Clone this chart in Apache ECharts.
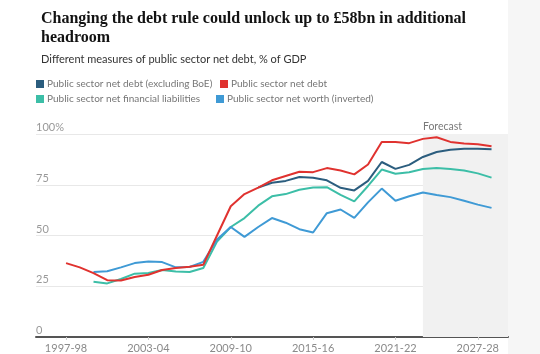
<!DOCTYPE html>
<html>
<head>
<meta charset="utf-8">
<script src="https://cdn.jsdelivr.net/npm/echarts@6/dist/echarts.min.js"></script>
<style>
html,body{margin:0;padding:0;background:#fff;}
#chart{width:540px;height:354px;}
</style>
</head>
<body>
<div id="chart"></div>
<script>
const categories = ['1997-98','1998-99','1999-00','2000-01','2001-02','2002-03','2003-04','2004-05','2005-06','2006-07','2007-08','2008-09','2009-10','2010-11','2011-12','2012-13','2013-14','2014-15','2015-16','2016-17','2017-18','2018-19','2019-20','2020-21','2021-22','2022-23','2023-24','2024-25','2025-26','2026-27','2027-28','2028-29'];
const tickLabels = ['1997-98','2003-04','2009-10','2015-16','2021-22','2027-28'];
const yTicks = [0, 25, 50, 75, 100];
const forecastStart = '2023-24';

const psndExBoE = [null,null,null,null,null,null,null,null,null,null,null,null,null,null,73.6,76,76.9,78.8,78.5,77.2,73.5,72.2,76.9,86.2,82.8,84.8,88.7,91.1,92.2,92.7,92.7,92.5];
const psnd = [36.4,34.3,31.5,28,27.8,29.6,30.7,33,34,34.6,35.6,50,64.4,70.4,73.6,77.2,79.3,81.4,81.2,83.2,82,80.1,85,96.1,96,95.5,97.6,98.4,96.1,95.3,95,94];
const psnfl = [null,null,27.2,26.4,28.6,31.2,31.5,33,32.3,32,34,47,54.2,58.6,64.7,69.3,70.4,72.5,73.6,73.8,70,66.8,74.4,82.5,80.4,81.2,82.8,83.2,82.8,82,80.6,78.5];
const psnw = [null,null,32,32.4,34.3,36.4,37.2,36.9,34.3,34.5,37,48,54.2,49.3,54.2,58.6,56.3,53.1,51.5,61,62.8,58.7,66.3,73.1,67.1,69.3,71.2,69.9,68.9,67.1,65.2,63.6];

const names = ['Public sector net debt (excluding BoE)','Public sector net debt','Public sector net financial liabilities','Public sector net worth (inverted)'];
const colors = ['#2b5d7e','#e0322f','#3cbea7','#3f9ad5'];
const seriesData = [psndExBoE, psnd, psnfl, psnw];

const toPairs = arr => arr.map((v,i) => [i, v]);
const xMin = -2.19, xMax = 32.2;

const chart = echarts.init(document.getElementById('chart'), null, {renderer:'canvas'});
const sans = 'Lato, "Noto Sans", sans-serif';

const legendPos = [[36,79],[220,79],[36,94],[216,94]];
const legends = names.map((n,i) => ({
  data:[n], left: legendPos[i][0], top: legendPos[i][1], orient:'horizontal',
  icon:'rect', itemWidth:8, itemHeight:8, itemGap:4, padding:0,
  textStyle:{color:'#767676', fontSize:10, fontFamily:sans, padding:[0,0,0,-2]},
  selectedMode:false
}));

const series = seriesData.map((d,i) => ({
  name: names[i], type:'line', data: toPairs(d), showSymbol:false, symbol:'none',
  lineStyle:{width:2, color:colors[i]}, itemStyle:{color:colors[i]},
  connectNulls:false, animation:false, z: i===1 ? 4 : 3
}));
series[0].markArea = {
  silent:true,
  itemStyle:{color:'#f1f1f1'},
  label:{show:true, position:[0,-13], formatter:'Forecast', color:'#7a7a7a', fontSize:10.5, fontFamily:sans},
  data:[[{xAxis: categories.indexOf(forecastStart), yAxis:0},{xAxis: xMax, yAxis:100}]]
};
series[0].z = 2;

chart.setOption({
  animation:false,
  backgroundColor:'#ffffff',
  title:[
    {text:'Changing the debt rule could unlock up to £58bn in additional\nheadroom', left:36, top:4,
     textStyle:{fontFamily:'"Liberation Serif", serif', fontWeight:'bold', fontSize:16, lineHeight:19, color:'#121212'}},
    {text:'Different measures of public sector net debt, % of GDP', left:36, top:49,
     textStyle:{fontFamily:sans, fontWeight:'normal', fontSize:11, color:'#333333'}}
  ],
  legend: legends,
  graphic:[{type:'rect', shape:{x:508, y:0, width:32, height:354}, style:{fill:'#f6f6f6'}, silent:true, z:-10}],
  grid:{left:36, right:32, top:134, bottom:14, containLabel:false},
  xAxis:{
    type:'value', min:xMin, max:xMax,
    axisLine:{show:true, onZero:false, lineStyle:{color:'#555', width:2}},
    axisTick:{show:true, customValues: tickLabels.map(t=>categories.indexOf(t)), length:3, lineStyle:{color:'#cccccc'}},
    axisLabel:{customValues: tickLabels.map(t=>categories.indexOf(t)), formatter: v => categories[Math.round(v)] || '', color:'#8a8a8a', fontSize:11, fontFamily:sans, margin:6},
    splitLine:{show:false}
  },
  yAxis:{
    type:'value', min:0, max:100, interval:25,
    axisLine:{show:false}, axisTick:{show:false},
    axisLabel:{inside:true, margin:0, verticalAlign:'bottom', align:'left', padding:[0,0,1,0],
      formatter: v => v===100 ? '100%' : String(v), color:'#999999', fontSize:11, fontFamily:sans},
    splitLine:{lineStyle:{color:'#e8e8e8', width:1}}
  },
  series: series
});
</script>
</body>
</html>
